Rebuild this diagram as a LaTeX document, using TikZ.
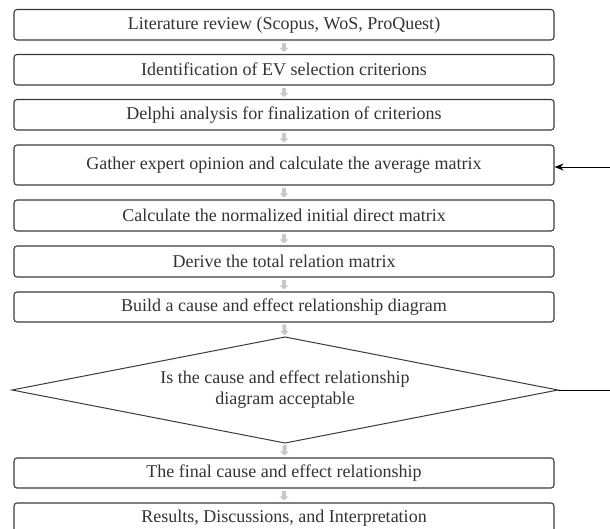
\documentclass[tikz,border=0pt]{standalone}
\usepackage{fontspec}
\setmainfont{Liberation Serif}
\usetikzlibrary{arrows.meta}
\definecolor{edge}{HTML}{3A3A3A}
\definecolor{txt}{HTML}{333333}
\definecolor{flow}{HTML}{C8C8C8}
\begin{document}
\begin{tikzpicture}[x=1pt,y=-1pt,
  stepbox/.style={draw=edge,line width=1.1pt,rounded corners=3pt,minimum width=540pt,inner sep=0pt,text=txt,font=\fontsize{18}{20}\selectfont},
  decisiontext/.style={inner sep=0pt,text=txt,align=center,font=\fontsize{18}{21}\selectfont},
  decisionline/.style={draw=edge,line width=1pt},
  flowarrow/.style={draw=flow,line width=4pt,-{Triangle[width=8.5pt,length=4pt]},shorten <=2pt,shorten >=2pt},
  loopline/.style={draw=black,line width=0.9pt}]
\useasboundingbox (0,0) rectangle (610,528);
\node[stepbox,minimum height=30.5pt] (b1) at (284,24.75) {Literature review (Scopus, WoS, ProQuest)};
\node[stepbox,minimum height=30.5pt] (b2) at (284,69.75) {Identification of EV selection criterions};
\node[stepbox,minimum height=30.5pt] (b3) at (284,114.75) {Delphi analysis for finalization of criterions};
\node[stepbox,minimum height=40pt] (b4) at (284,165) {Gather expert opinion and calculate the average matrix};
\node[stepbox,minimum height=31pt] (b5) at (284,215.5) {Calculate the normalized initial direct matrix};
\node[stepbox,minimum height=31pt] (b6) at (284,261.5) {Derive the total relation matrix};
\node[stepbox,minimum height=30pt] (b7) at (284,307) {Build a cause and effect relationship diagram};
\coordinate (dN) at (285,337);
\coordinate (dE) at (558,390);
\coordinate (dS) at (285,443);
\coordinate (dW) at (12,390);
\draw[decisionline] (dN) -- (dE) -- (dS) -- (dW) -- cycle;
\node[decisiontext] (d) at (285,390) {Is the cause and effect relationship\\diagram acceptable};
\node[stepbox,minimum height=30pt] (b8) at (284,473) {The final cause and effect relationship};
\node[stepbox,minimum height=31pt] (b9) at (284,518.5) {Results, Discussions, and Interpretation};
\foreach \a/\b in {b1/b2,b2/b3,b3/b4,b4/b5,b5/b6,b6/b7}
  \draw[flowarrow] (\a.south) -- (\b.north);
\draw[flowarrow] (b7.south) -- (dN);
\draw[flowarrow] (dS) -- (b8.north);
\draw[flowarrow] (b8.south) -- (b9.north);
\coordinate (rt) at (616,390);
\coordinate (rb) at (616,167);
\draw[loopline,-{Stealth[length=9pt,width=7pt]}] (dE) -- (rt) -- (rb) -- (b4.east |- rb);
\end{tikzpicture}
\end{document}
